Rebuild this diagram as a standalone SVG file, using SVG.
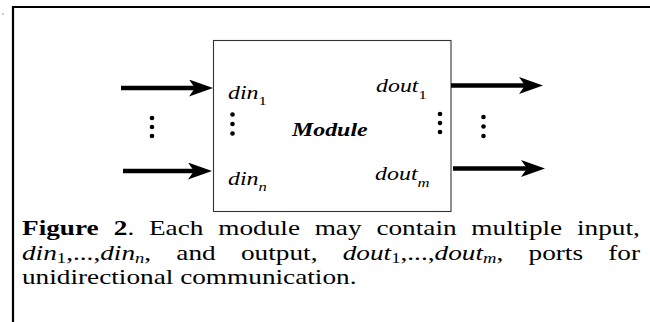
<svg xmlns="http://www.w3.org/2000/svg" width="650" height="322" viewBox="0 0 650 322">
  <style>
    .frame { stroke: #000; stroke-width: 2.2; fill: none; }
    .box { fill: #fff; stroke: #333; stroke-width: 1.1; }
    .wire { stroke: #000; stroke-width: 4.5; fill: none; marker-end: url(#head); }
    .dot { fill: #000; }
    .lbl { font-family: "Liberation Serif", "Times New Roman", serif; font-size: 18px; font-style: italic; fill: #000; }
    .sub { font-size: 12.5px; }
    .num { font-style: normal; }
    .title { font-weight: bold; }
    .cap { font-family: "Liberation Serif", "Times New Roman", serif; font-size: 20.5px; fill: #000; }
    .it { font-style: italic; }
    .b { font-weight: bold; }
    .csub { font-size: 14px; font-style: normal; }
    .isub { font-size: 14px; font-style: italic; }
  </style>
  <defs>
    <marker id="head" markerUnits="userSpaceOnUse" viewBox="0 0 24 17" refX="6" refY="8.5" markerWidth="24" markerHeight="17" orient="auto">
      <path d="M0,0 L24,8.5 L0,17 L6,8.5 Z" fill="#000"/>
    </marker>
  </defs>

  <rect width="650" height="322" fill="#fff"/>

  <!-- page frame (top and left rules) -->
  <g id="frame">
    <path class="frame" d="M12,7 H650 M13,6 V322"/>
    <rect x="2" y="13.5" width="2" height="1" fill="#999"/>
  </g>

  <!-- module block -->
  <g id="module">
    <rect class="box" x="213.5" y="40.5" width="237.5" height="171"/>
    <g transform="scale(1.33 1)">
      <text class="lbl title" x="219.5" y="136">Module</text>
    </g>
  </g>

  <!-- port labels -->
  <g id="port-din1" transform="scale(1.33 1)">
    <text class="lbl" x="171.4" y="99">din<tspan class="sub num" dy="6">1</tspan></text>
  </g>
  <g id="port-dinn" transform="scale(1.33 1)">
    <text class="lbl" x="171.4" y="185">din<tspan class="sub" dy="6">n</tspan></text>
  </g>
  <g id="port-dout1" transform="scale(1.33 1)">
    <text class="lbl" x="282.7" y="92.5">dout<tspan class="sub num" dy="7">1</tspan></text>
  </g>
  <g id="port-doutm" transform="scale(1.33 1)">
    <text class="lbl" x="282" y="180">dout<tspan class="sub" dy="7">m</tspan></text>
  </g>

  <!-- connectors -->
  <g id="connectors">
    <line class="wire" x1="121" y1="88" x2="195" y2="88"/>
    <line class="wire" x1="123" y1="171" x2="194" y2="171"/>
    <line class="wire" x1="451" y1="85.5" x2="525" y2="85.5"/>
    <line class="wire" x1="453" y1="168.5" x2="527" y2="168.5"/>
  </g>

  <!-- ellipsis marks between ports -->
  <g id="ellipses">
    <circle class="dot" cx="152" cy="118" r="2.3"/>
    <circle class="dot" cx="152" cy="127" r="2.3"/>
    <circle class="dot" cx="152" cy="136" r="2.3"/>
    <circle class="dot" cx="232.5" cy="114.5" r="2.3"/>
    <circle class="dot" cx="232.5" cy="124" r="2.3"/>
    <circle class="dot" cx="232.5" cy="133.5" r="2.3"/>
    <circle class="dot" cx="440" cy="114" r="2.3"/>
    <circle class="dot" cx="440" cy="123" r="2.3"/>
    <circle class="dot" cx="440" cy="132" r="2.3"/>
    <circle class="dot" cx="483.5" cy="117" r="2.3"/>
    <circle class="dot" cx="483.5" cy="126.5" r="2.3"/>
    <circle class="dot" cx="483.5" cy="136" r="2.3"/>
  </g>

  <!-- caption (justified; word positions in the stretched text space) -->
  <g id="caption" transform="scale(1.33 1)">
    <text class="cap" y="235"><tspan class="b" x="16.54">Figure</tspan><tspan class="b" x="85.6">2</tspan><tspan>.</tspan><tspan x="112">Each</tspan><tspan x="164.1">module</tspan><tspan x="236.6">may</tspan><tspan x="283">contain</tspan><tspan x="354.4">multiple</tspan><tspan x="433.8">input,</tspan></text>
    <text class="cap" y="260"><tspan x="16.54" class="it">din</tspan><tspan class="csub" dy="3">1</tspan><tspan dy="-3">,...,</tspan><tspan class="it">din</tspan><tspan class="isub" dy="3">n</tspan><tspan dy="-3">,</tspan><tspan x="132.6">and</tspan><tspan x="181.2">output,</tspan><tspan x="257.7" class="it">dout</tspan><tspan class="csub" dy="3">1</tspan><tspan dy="-3">,...,</tspan><tspan class="it">dout</tspan><tspan class="isub" dy="3">m</tspan><tspan dy="-3">,</tspan><tspan x="397.4">ports</tspan><tspan x="457.3">for</tspan></text>
    <text class="cap" x="16.54" y="284">unidirectional communication.</text>
  </g>
</svg>
